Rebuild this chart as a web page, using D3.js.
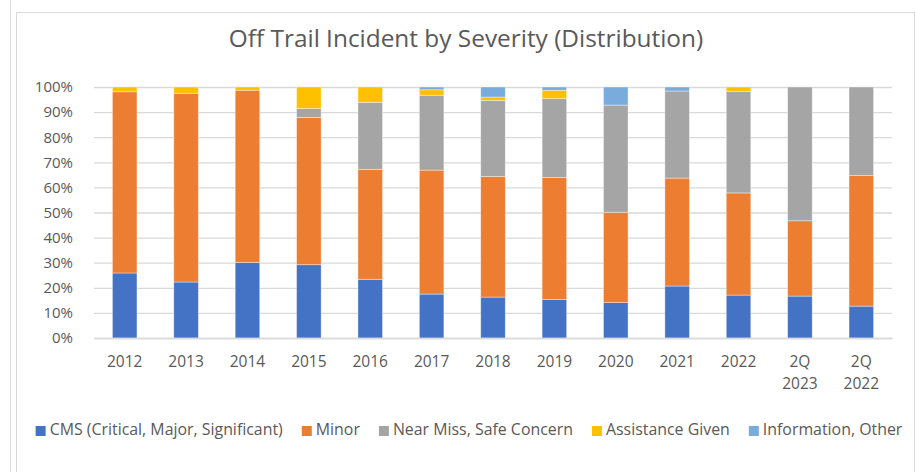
<!DOCTYPE html>
<html>
<head>
<meta charset="utf-8">
<script src="https://cdn.jsdelivr.net/npm/d3@7"></script>
<style>
  body { margin: 0; background: #fff; }
  text { font-family: "Open Sans", Lato, sans-serif; fill: #595959; }
</style>
</head>
<body>
<div id="chart"></div>
<script>
// categories and series (percent of incidents per period)
const categories = ["2012", "2013", "2014", "2015", "2016", "2017", "2018", "2019", "2020", "2021", "2022", "2Q 2023", "2Q 2022"];
const seriesNames = ["CMS (Critical, Major, Significant)", "Minor", "Near Miss, Safe Concern", "Assistance Given", "Information, Other"];
const cms        = [25.9, 22.3, 30.1, 29.2, 23.4, 17.5, 16.3, 15.4, 14.1, 20.7, 17.1, 16.7, 12.7];
const minor      = [72.2, 75.2, 68.6, 58.7, 43.8, 49.4, 48.1, 48.6, 36.0, 43.0, 40.7, 30.0, 52.0];
const nearMiss   = [0, 0, 0, 3.5, 26.7, 29.8, 30.3, 31.4, 42.7, 34.7, 40.5, 53.3, 35.3];
const assistance = [1.9, 2.5, 1.3, 8.6, 6.1, 2.2, 1.3, 3.3, 0, 0, 1.7, 0, 0];
const infoOther  = [0, 0, 0, 0, 0, 1.1, 4.0, 1.3, 7.2, 1.6, 0, 0, 0];
const yTicks = [0, 10, 20, 30, 40, 50, 60, 70, 80, 90, 100];

const colors = ["#4472C4", "#ED7D31", "#A5A5A5", "#FFC000", "#7AABDD"];
const seriesValues = [cms, minor, nearMiss, assistance, infoOther];

const W = 916, H = 472;
const margin = {top: 87, right: 24, bottom: 134, left: 94};
const width = W - margin.left - margin.right,
      height = H - margin.top - margin.bottom;

const root = d3.select("#chart").append("svg")
    .attr("width", W)
    .attr("height", H);

// outer frames
root.append("line")
    .attr("x1", 10.5).attr("x2", 10.5)
    .attr("y1", 0).attr("y2", H)
    .attr("stroke", "#d9d9d9").attr("stroke-width", 1);
root.append("rect")
    .attr("x", 16.5).attr("y", 12.5)
    .attr("width", 898).attr("height", H)
    .attr("fill", "#fff")
    .attr("stroke", "#d9d9d9").attr("stroke-width", 1);

// title
root.append("text")
    .attr("x", 466)
    .attr("y", 47)
    .attr("text-anchor", "middle")
    .style("font-size", "24.4px")
    .text("Off Trail Incident by Severity (Distribution)");

const svg = root.append("g")
    .attr("transform", "translate(" + margin.left + "," + margin.top + ")");

// build rows for the stack
const rows = categories.map((c, i) => {
    const r = {cat: c};
    seriesNames.forEach((s, j) => r[s] = seriesValues[j][i]);
    return r;
});
const stacked = d3.stack().keys(seriesNames)(rows);

const x = d3.scaleBand()
    .domain(categories)
    .range([0, width])
    .paddingInner(0.6)
    .paddingOuter(0.3);

const y = d3.scaleLinear()
    .domain([0, 100])
    .range([height, 0]);

// grid lines
svg.append("g")
    .attr("class", "grid")
    .call(d3.axisLeft(y).tickValues(yTicks).tickSize(-width).tickFormat(""))
    .call(g => g.select(".domain").remove())
    .call(g => g.selectAll("line")
        .attr("stroke", "#d9d9d9")
        .attr("stroke-width", 1.3));

// y labels
svg.append("g")
    .attr("transform", "translate(-18,0)")
    .call(d3.axisLeft(y).tickValues(yTicks).tickSize(0).tickFormat(d => d + "%"))
    .call(g => g.select(".domain").remove())
    .call(g => g.selectAll("text")
        .attr("fill", "#595959")
        .style("font-size", "15px")
        .style("font-family", "'Open Sans', sans-serif"));

// bars
svg.selectAll(".series")
    .data(stacked)
    .enter()
    .append("g")
    .attr("class", "series")
    .attr("fill", (d, i) => colors[i])
    .selectAll("rect")
    .data(d => d.filter(p => p[1] - p[0] > 0))
    .enter()
    .append("rect")
    .attr("x", d => x(d.data.cat))
    .attr("width", x.bandwidth())
    .attr("y", d => y(d[1]))
    .attr("height", d => y(d[0]) - y(d[1]))
    .attr("stroke", "#fff")
    .attr("stroke-opacity", 0.5)
    .attr("stroke-width", 0.75);

// x labels (wrap "2Q 2023" onto two lines)
const xAxis = svg.append("g")
    .attr("transform", "translate(0," + height + ")")
    .call(d3.axisBottom(x).tickSize(0).tickFormat(""));
xAxis.select(".domain").attr("stroke", "#d9d9d9").attr("stroke-width", 1.3);
xAxis.selectAll(".tick").each(function(d) {
    const t = d3.select(this).append("text")
        .attr("text-anchor", "middle")
        .attr("fill", "#595959")
        .style("font-size", "15.5px")
        .attr("y", 29);
    d.split(" ").forEach((w, i) => {
        t.append("tspan").attr("x", 0).attr("dy", i === 0 ? 0 : 22).text(w);
    });
});

// legend
const legend = root.append("g");
let lx = 0;
seriesNames.forEach((s, i) => {
    const item = legend.append("g").attr("transform", "translate(" + lx + ",0)");
    item.append("rect")
        .attr("x", 0).attr("y", -9)
        .attr("width", 10).attr("height", 10)
        .attr("fill", colors[i]);
    const t = item.append("text")
        .attr("x", 14).attr("y", 0)
        .style("font-size", "15.9px")
        .text(s);
    lx += 14 + t.node().getComputedTextLength() + 19;
});
lx -= 19;
legend.attr("transform", "translate(" + (469 - lx / 2) + ",435)");
</script>
</body>
</html>
